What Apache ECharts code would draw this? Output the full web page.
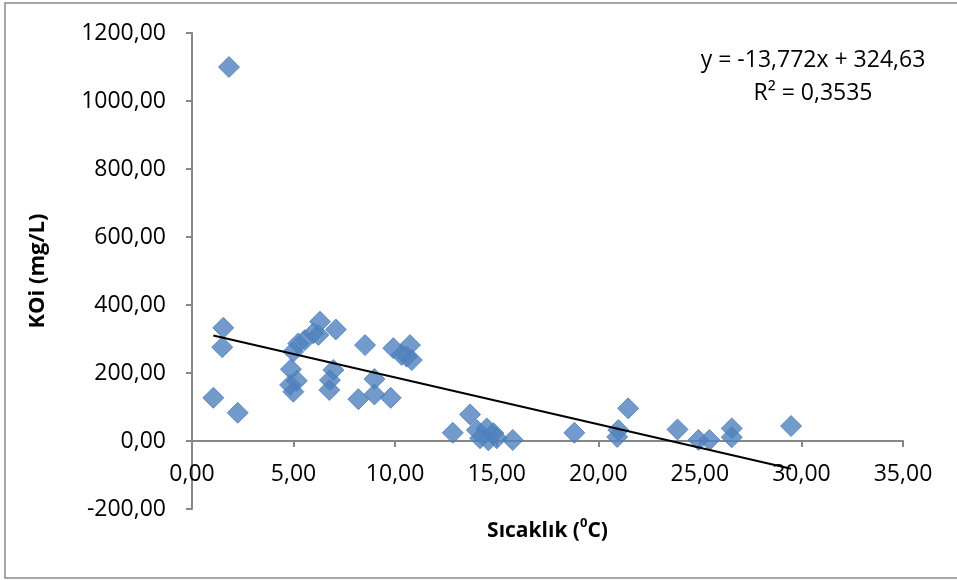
<!DOCTYPE html>
<html>
<head>
<meta charset="utf-8">
<script src="https://cdn.jsdelivr.net/npm/echarts@6/dist/echarts.min.js"></script>
<style>
  html, body { margin: 0; padding: 0; background: #fff; }
  #chart { width: 957px; height: 580px; }
</style>
</head>
<body>
<div id="chart"></div>
<script>
// Temperature (°C) of each sample
var temperature = [
  1.82, 1.05, 1.54, 1.49, 2.25,
  4.87, 4.83, 4.99, 5.16, 4.99, 5.23, 5.56, 5.97, 6.30, 6.22,
  7.08, 6.96, 6.79, 6.76, 8.19, 8.52, 8.98, 8.98, 9.78, 9.91,
  10.32, 10.73, 10.82, 10.57,
  12.84, 13.69, 14.02, 14.18, 14.51, 14.59, 14.84, 15.00, 15.79,
  18.82, 20.99, 20.93, 21.47, 23.90, 24.93, 25.47, 26.57, 26.57, 29.49
];
// Chemical oxygen demand (mg/L) of each sample
var koi = [
  1100, 127, 333, 276, 83,
  211, 165, 145, 177, 263, 287, 297, 317, 351, 312,
  328, 209, 179, 150, 123, 282, 182, 137, 127, 273,
  253, 282, 238, 248,
  24, 78, 32, 8, 37, 2, 23, 8, 3,
  24, 32, 12, 96, 34, 3, 3, 37, 11, 44
];
// Linear trend: y = slope * x + intercept
var trendSlope = [-13.772];
var trendIntercept = [324.63];
var rSquared = ['0,3535'];

var xTicks = { min: 0, max: 35, step: 5 };
var yTicks = { min: -200, max: 1200, step: 200 };

function fmt(v) { return v.toFixed(2).replace('.', ','); }
function comma(v) { return String(v).replace('.', ','); }

var points = temperature.map(function (t, i) { return [t, koi[i]]; });
var xMin = Math.min.apply(null, temperature);
var xMax = Math.max.apply(null, temperature);
var trend = [xMin, xMax].map(function (x) {
  return [x, trendSlope[0] * x + trendIntercept[0]];
});

var font = '"Open Sans", "Noto Sans", sans-serif';
var axisGray = '#878787';

var grid = { left: 192, right: 54, top: 33, bottom: 71 };
var plotHeight = 580 - grid.top - grid.bottom;
// lift the x axis from the bottom edge up to the y = 0 line
var zeroOffset = -plotHeight * (0 - yTicks.min) / (yTicks.max - yTicks.min);

var chart = echarts.init(document.getElementById('chart'), null, { renderer: 'canvas' });
chart.setOption({
  animation: false,
  backgroundColor: '#fff',
  grid: { left: grid.left, right: grid.right, top: grid.top, bottom: grid.bottom, containLabel: false, outerBoundsMode: 'none' },
  xAxis: {
    type: 'value',
    min: xTicks.min, max: xTicks.max, interval: xTicks.step,
    offset: zeroOffset,
    axisLine: { show: true, onZero: false, lineStyle: { color: axisGray, width: 2 } },
    axisTick: { show: true, inside: false, length: 6, lineStyle: { color: axisGray, width: 2 } },
    splitLine: { show: false },
    axisLabel: { margin: 22, color: '#000', fontFamily: font, fontSize: 23, formatter: fmt },
    name: '{t|Sıcaklık (}{s|0}{t|C)}',
    nameLocation: 'middle',
    nameGap: 76,
    nameTextStyle: {
      rich: {
        t: { fontFamily: font, fontSize: 21, fontWeight: 'bold', color: '#000', lineHeight: 28 },
        s: { fontFamily: font, fontSize: 13, fontWeight: 'bold', color: '#000', verticalAlign: 'top', lineHeight: 28, padding: [0, 0, 8, 0] }
      }
    }
  },
  yAxis: {
    type: 'value',
    min: yTicks.min, max: yTicks.max, interval: yTicks.step,
    axisLine: { show: true, onZero: false, lineStyle: { color: axisGray, width: 2 } },
    axisTick: { show: true, inside: false, length: 6, lineStyle: { color: axisGray, width: 2 } },
    splitLine: { show: false },
    axisLabel: { margin: 26, color: '#000', fontFamily: font, fontSize: 23, formatter: fmt },
    name: 'KOi (mg/L)',
    nameLocation: 'middle',
    nameGap: 143,
    nameRotate: 90,
    nameTextStyle: { fontFamily: font, fontSize: 22, fontWeight: 'bold', color: '#000' }
  },
  series: [
    {
      type: 'scatter',
      data: points,
      symbol: 'diamond',
      symbolSize: 21,
      itemStyle: { color: '#4F81BD', borderColor: '#4A7EBB', borderWidth: 1 },
      z: 2
    },
    {
      type: 'line',
      data: trend,
      symbol: 'none',
      lineStyle: { color: '#000', width: 2 },
      z: 3
    }
  ],
  graphic: [
    {
      type: 'rect',
      shape: { x: 5, y: 3, width: 970, height: 575 },
      style: { fill: 'none', stroke: '#8a8a8a', lineWidth: 1.5 },
      silent: true, z: -1
    },
    {
      type: 'text',
      x: 813, y: 60,
      style: {
        text: 'y = ' + comma(trendSlope[0]) + 'x + ' + comma(trendIntercept[0]),
        fontFamily: font, fontSize: 23, fill: '#000', align: 'center', verticalAlign: 'middle'
      }
    },
    {
      type: 'text',
      x: 813, y: 93,
      style: {
        text: 'R² = ' + rSquared[0],
        fontFamily: font, fontSize: 23, fill: '#000', align: 'center', verticalAlign: 'middle'
      }
    }
  ]
});
</script>
</body>
</html>
